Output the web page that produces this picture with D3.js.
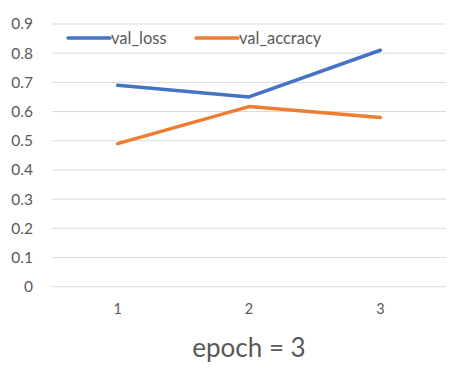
<!DOCTYPE html>
<html><head><meta charset="utf-8">
<script src="https://cdn.jsdelivr.net/npm/d3@7"></script>
<style>body{margin:0;background:#fff}svg{display:block}</style>
</head><body>
<svg id="c" width="451" height="369"></svg>
<script>
const categories = ["1","2","3"];
const valLoss = [0.69, 0.65, 0.81];
const valAccuracy = [0.49, 0.617, 0.58];
const yTicks = [0,0.1,0.2,0.3,0.4,0.5,0.6,0.7,0.8,0.9];
const seriesNames = ["val_loss","val_accracy"];
const colors = ["#4472C4","#ED7D31"];
const title = "epoch = 3";

(function(){
const svg = d3.select("#c");
const font = "Lato, 'Open Sans', sans-serif";
const mLeft = 52, mRight = 446, mTop = 24, mBottom = 286.7;
const x = d3.scaleBand().domain(categories).range([mLeft, mRight]);
const y = d3.scaleLinear().domain([0, 0.9]).range([mBottom, mTop]);

const grid = svg.append("g");
grid.selectAll("line").data(yTicks).join("line")
  .attr("x1", mLeft).attr("x2", mRight)
  .attr("y1", d => y(d)).attr("y2", d => y(d))
  .attr("stroke", "#d9d9d9").attr("stroke-width", 1);

const yAxis = svg.append("g").attr("transform", `translate(${mLeft-19},0)`)
  .call(d3.axisLeft(y).tickValues(yTicks).tickSize(0).tickFormat(d => d === 0 ? "0" : d3.format(".1f")(d)));
yAxis.select(".domain").remove();
yAxis.selectAll("text").attr("font-family", font).attr("font-size", 15.5).attr("fill", "#595959").attr("x", 0);

const xAxis = svg.append("g").attr("transform", `translate(0,${mBottom+14})`)
  .call(d3.axisBottom(x).tickSize(0));
xAxis.select(".domain").remove();
xAxis.selectAll("text").attr("font-family", font).attr("font-size", 14.5).attr("fill", "#595959");

const line = d3.line().x((d,i) => x(categories[i]) + x.bandwidth()/2).y(d => y(d));
[valLoss, valAccuracy].forEach((s, i) => {
  svg.append("path").attr("d", line(s)).attr("fill", "none")
    .attr("stroke", colors[i]).attr("stroke-width", 3.5)
    .attr("stroke-linecap", "round").attr("stroke-linejoin", "round");
});

const legX = [68, 196];
seriesNames.forEach((n, i) => {
  const g = svg.append("g");
  g.append("line").attr("x1", legX[i]).attr("x2", legX[i] + 42).attr("y1", 38).attr("y2", 38)
    .attr("stroke", colors[i]).attr("stroke-width", 3.5).attr("stroke-linecap", "round");
  g.append("text").attr("x", legX[i] + 43).attr("y", 43.5).text(n)
    .attr("font-family", font).attr("font-size", 16.5).attr("fill", "#595959");
});

svg.append("text").attr("x", 249).attr("y", 357).attr("text-anchor", "middle")
  .text(title).attr("font-family", font).attr("font-size", 26).attr("fill", "#595959");
})();
</script>
</body></html>
